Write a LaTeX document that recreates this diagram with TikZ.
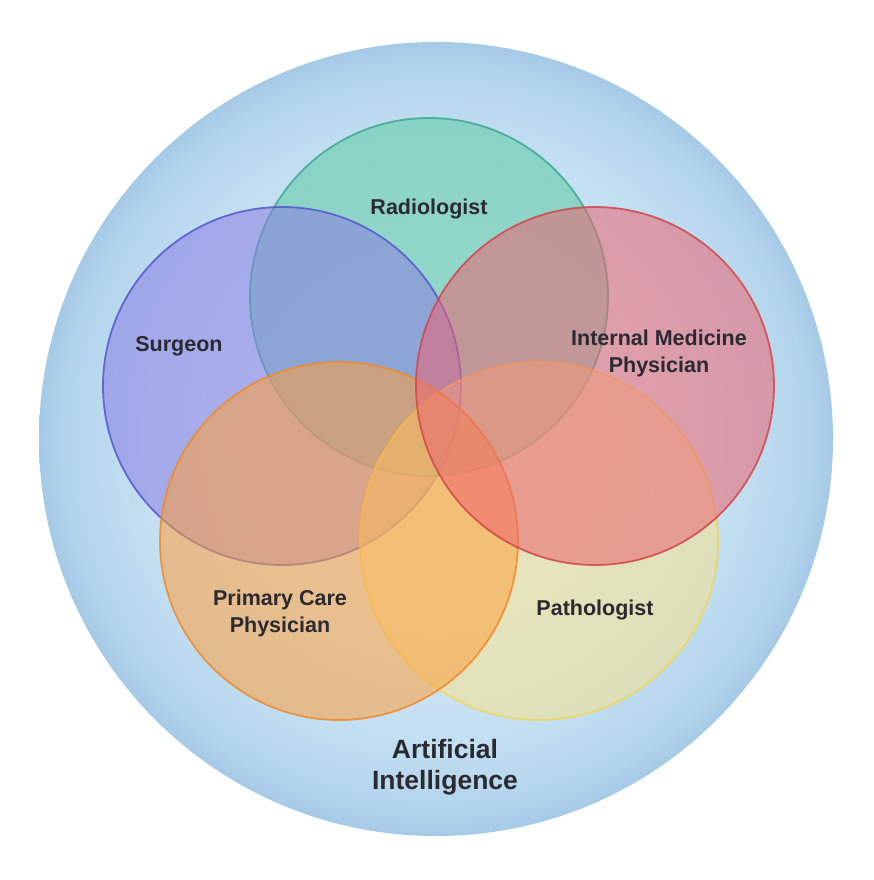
\documentclass[tikz,border=0pt]{standalone}
\usepackage{fontspec}
\setmainfont{Liberation Sans}
\definecolor{txt}{HTML}{2A2A30}
\definecolor{bgA}{HTML}{D3E8F6}
\definecolor{bgB}{HTML}{C3DFF2}
\definecolor{bgC}{HTML}{B2D4EC}
\definecolor{bgD}{HTML}{A5CAE6}
\definecolor{radF}{HTML}{5CCAA4}
\definecolor{radD}{HTML}{3DAA90}
\definecolor{surF}{HTML}{8A7EE4}
\definecolor{surD}{HTML}{5558CC}
\definecolor{imF}{HTML}{EC6470}
\definecolor{imD}{HTML}{D3464A}
\definecolor{pcF}{HTML}{FFA03C}
\definecolor{pcD}{HTML}{F08A2A}
\definecolor{paF}{HTML}{F9E282}
\definecolor{paD}{HTML}{F0D55A}
\pgfdeclareradialshading{aibg}{\pgfpoint{0bp}{0bp}}{%
  color(0bp)=(bgA); color(11bp)=(bgA); color(19bp)=(bgB); color(23.5bp)=(bgC); color(25bp)=(bgD); color(50bp)=(bgD)}
\tikzset{
  venn/.style={circle, minimum size=358pt, inner sep=0pt, line width=1.8pt, fill opacity=0.55, draw opacity=0.85},
  lab/.style={text=txt, font=\fontsize{21.5}{27}\selectfont\bfseries, align=center},
  ailab/.style={text=txt, font=\fontsize{26.5}{31}\selectfont\bfseries, align=center}
}
\begin{document}
\begin{tikzpicture}[x=1pt,y=-1pt]
\useasboundingbox (0,0) rectangle (873,880);
\fill[white] (0,0) rectangle (873,880);
\shade[shading=aibg] (436,439) circle[radius=397];
\node[venn, fill=radF, draw=radD] (rad) at (429,297) {};
\node[venn, fill=surF, draw=surD] (sur) at (282,386) {};
\node[venn, fill=paF, draw=paD, fill opacity=0.5] (pa) at (539,541) {};
\node[venn, fill=pcF, draw=pcD] (pc) at (339,541) {};
\node[venn, fill=imF, draw=imD] (im) at (595,386) {};
\node[lab] (tr) at (429,209) {Radiologist};
\node[lab] (ts) at (179,346) {Surgeon};
\node[lab] (ti) at (659,353) {Internal Medicine\\Physician};
\node[lab] (tp) at (280,613) {Primary Care\\Physician};
\node[lab] (tpa) at (595,610) {Pathologist};
\node[ailab] (tai) at (445,767) {Artificial\\Intelligence};
\end{tikzpicture}
\end{document}
